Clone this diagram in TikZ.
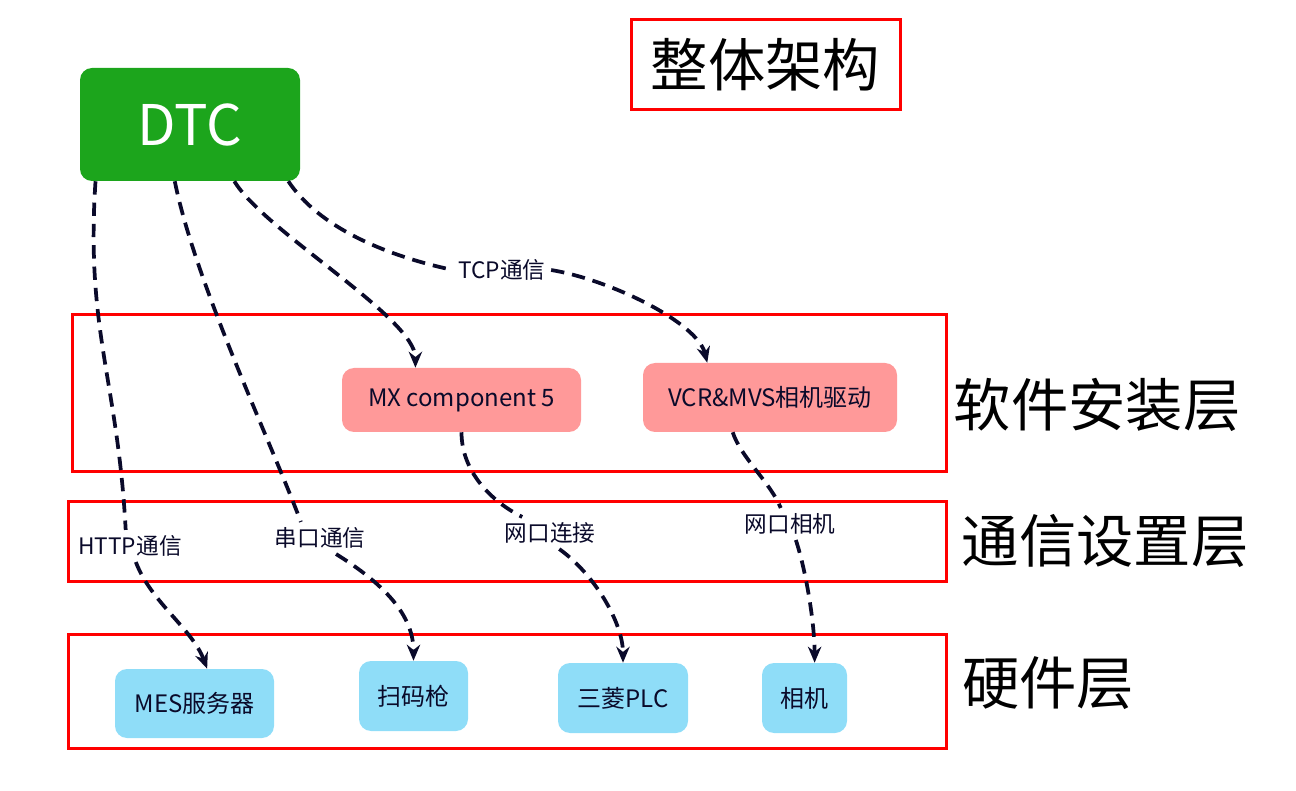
\documentclass[tikz,border=0pt]{standalone}
\usepackage{fontspec}
\setmainfont{Noto Sans CJK SC}
\usetikzlibrary{arrows.meta}
\definecolor{dtcgreen}{RGB}{28,165,28}
\definecolor{softpink}{RGB}{255,153,153}
\definecolor{hardblue}{RGB}{143,221,248}
\definecolor{navy}{RGB}{10,10,42}

\begin{document}
\begin{tikzpicture}[x=0.75pt, y=-0.75pt, >={Stealth[length=12pt,width=10pt]},
  every box/.style={rounded corners=9pt, inner sep=0pt, text=navy,
    font=\fontsize{18}{22}\selectfont},
  dtc box/.style={every box, fill=dtcgreen, text=white,
    font=\fontsize{42}{48}\selectfont},
  soft box/.style={every box, fill=softpink},
  hard box/.style={every box, fill=hardblue},
  layer/.style={draw=red, line width=2.25pt},
  layer name/.style={font=\fontsize{43}{50}\selectfont},
  link/.style={draw=navy, line width=2.8pt, dash pattern=on 10pt off 6pt},
  link label/.style={text=navy, inner sep=4pt, font=\fontsize{17}{20}\selectfont}]
\useasboundingbox (0,0) rectangle (1296,791);

% layers
\draw [layer] (72,315) rectangle (946,471);
\draw [layer] (68,501) rectangle (946,581);
\draw [layer] (68,634) rectangle (946,748);

\foreach \t/\x/\y [count=\i] in {软件安装层/1097/405, 通信设置层/1105/541, 硬件层/1048/683}
  \node [layer name] (layer-\i) at (\x,\y) {\t};

\node [layer name, draw=red, line width=2.25pt, minimum width=201.75pt,
  minimum height=67.5pt] (title) at (765.5,65) {整体架构};

% boxes
\node [dtc box, minimum width=165pt, minimum height=84.75pt] (dtc) at (190,124.5) {DTC};

\node [soft box, minimum width=179.25pt, minimum height=48pt] (mx) at (461.5,400) {MX component 5};
\node [soft box, minimum width=190.5pt, minimum height=51.75pt] (vcr) at (770,397.5) {VCR\&MVS相机驱动};

\node [hard box, minimum width=119.25pt, minimum height=51.75pt] (mes) at (194.5,703.5) {MES服务器};
\node [hard box, minimum width=81.75pt, minimum height=52.5pt] (scan) at (413.5,696) {扫码枪};
\node [hard box, minimum width=97.5pt, minimum height=52.5pt] (plc) at (623,698) {三菱PLC};
\node [hard box, minimum width=63.75pt, minimum height=52.5pt] (cam) at (804.5,698) {相机};

% labels
\node [link label] (http) at (130,546) {HTTP通信};
\node [link label] (serial) at (320,538) {串口通信};
\node [link label] (tcp) at (502,270) {TCP通信};
\node [link label] (net-1) at (550,533) {网口连接};
\node [link label] (net-2) at (790,524) {网口相机};

% links
\draw [link] (dtc.211.6) .. controls +(-10,150) and +(-8,-150) .. (http.105);
\draw [link, ->] (http.290) .. controls +(15,40) and +(-15,-40) .. (mes.70);

\draw [link] (dtc.255) .. controls +(20,100) and +(-30,-80) .. (serial.140);
\draw [link, ->] (serial.315) .. controls +(40,25) and +(0,-50) .. (scan.north);

\draw [link, ->] (dtc.308.5) .. controls +(30,50) and +(0,-50) .. (mx.145.5);

\draw [link] (dtc.330) .. controls +(30,45) and +(-70,-15) .. (tcp.west);
\draw [link, ->] (tcp.east) .. controls +(60,10) and +(-10,-40) .. (vcr.151.4);

\draw [link] (mx.south) .. controls +(0,40) and +(-30,-15) .. (net-1.150);
\draw [link, ->] (net-1.300) .. controls +(35,25) and +(0,-40) .. (plc.north);

\draw [link] (vcr.223) .. controls +(8,25) and +(-10,-25) .. (net-2.120);
\draw [link, ->] (net-2.290) .. controls +(10,30) and +(0,-40) .. (cam.74);
\end{tikzpicture}
\end{document}
